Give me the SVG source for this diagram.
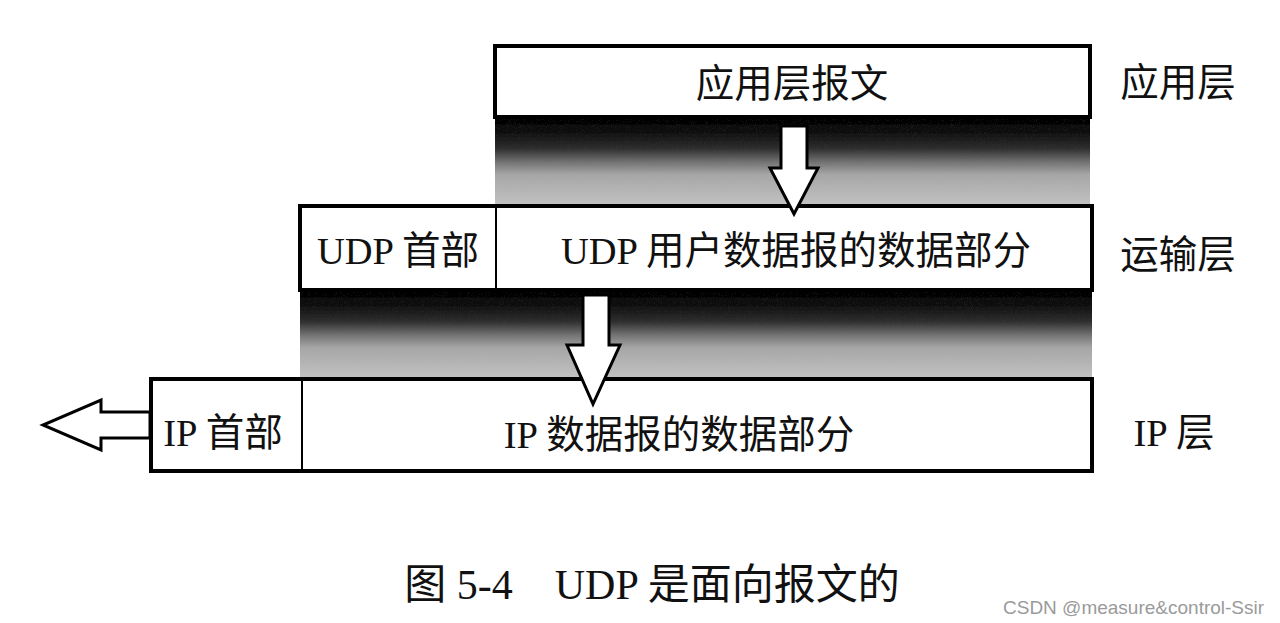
<svg xmlns="http://www.w3.org/2000/svg" width="1280" height="623" viewBox="0 0 1280 623">
<defs>
<linearGradient id="shade" x1="0" y1="0" x2="0" y2="1">
<stop offset="0" stop-color="#000"/>
<stop offset="0.15" stop-color="#0d0d0d"/>
<stop offset="0.35" stop-color="#2e2e2e"/>
<stop offset="0.5" stop-color="#707070"/>
<stop offset="0.65" stop-color="#a6a6a6"/>
<stop offset="1" stop-color="#c2c2c2"/>
</linearGradient>
<filter id="grain" x="0" y="0" width="100%" height="100%">
<feTurbulence type="fractalNoise" baseFrequency="0.95" numOctaves="1" seed="3" result="n"/>
<feColorMatrix in="n" type="matrix" values="0 0 0 0 0.5  0 0 0 0 0.5  0 0 0 0 0.5  0 0 0 0.5 0" result="g"/>
<feComposite in="g" in2="SourceGraphic" operator="in" result="gc"/>
<feBlend in="SourceGraphic" in2="gc" mode="overlay"/>
</filter>
</defs>
<style>
.box{fill:#fff;stroke:#000;stroke-width:4}
.div{stroke:#000;stroke-width:2}
.arr{fill:#fff;stroke:#000;stroke-width:3;stroke-linejoin:miter}
.t{font-family:"Liberation Serif","Noto Sans CJK SC",serif;font-size:38.5px;fill:#111}
.wm{font-family:"Liberation Sans","Noto Sans",sans-serif;font-size:19px;fill:#9a9a9a}
</style>
<rect width="1280" height="623" fill="#fff"/>
<g id="shadows">
<rect x="495" y="118" width="595" height="87" fill="url(#shade)" filter="url(#grain)"/>
<rect x="300" y="291" width="792" height="87" fill="url(#shade)" filter="url(#grain)"/>
</g>
<g id="app-layer">
<rect class="box" x="495" y="46" width="595" height="71"/>
<text class="t" x="792" y="97" text-anchor="middle">应用层报文</text>
</g>
<g id="transport-layer">
<rect class="box" x="300" y="206" width="792" height="84"/>
<line class="div" x1="496" y1="206" x2="496" y2="290"/>
<text class="t" x="398" y="264" text-anchor="middle">UDP 首部</text>
<text class="t" x="796" y="264" text-anchor="middle">UDP 用户数据报的数据部分</text>
</g>
<g id="ip-layer">
<rect class="box" x="151" y="379" width="941" height="92"/>
<line class="div" x1="302" y1="379" x2="302" y2="471"/>
<text class="t" x="223" y="446" text-anchor="middle">IP 首部</text>
<text class="t" x="679" y="448" text-anchor="middle">IP 数据报的数据部分</text>
</g>
<g id="labels">
<text class="t" x="1178" y="96" text-anchor="middle">应用层</text>
<text class="t" x="1178" y="268" text-anchor="middle">运输层</text>
<text class="t" x="1174" y="446" text-anchor="middle">IP 层</text>
</g>
<g id="connectors">
<polygon class="arr" points="781,126 807,126 807,168 818,168 794,214 770,168 781,168"/>
<polygon class="arr" points="583,295 609,295 609,345 620,345 593,404 567,345 583,345"/>
<polygon class="arr" points="150,412 101,412 101,400 43,425 101,450 101,438 150,438"/>
</g>
<g id="caption">
<text class="t" x="652" y="599" text-anchor="middle" style="font-size:42px">图 5-4　UDP 是面向报文的</text>
</g>
<text class="wm" x="1003" y="614">CSDN @measure&amp;control-Ssir</text>
</svg>
